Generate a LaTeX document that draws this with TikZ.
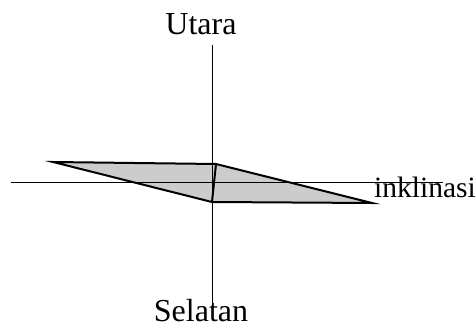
\documentclass[tikz,border=0pt]{standalone}
\usepackage{fontspec}
\setmainfont{Liberation Serif}
\usetikzlibrary{positioning}

\begin{document}
\begin{tikzpicture}[x=1pt, y=-1pt, every node/.style={font=\fontsize{32}{34}\selectfont, inner sep=0pt}]
    \useasboundingbox (0,0) rectangle (475,329);
    % labels
    \node[anchor=base] (utara) at (201,35) {Utara};
    \node[anchor=base] (selatan) at (201,322) {Selatan};
    \node[anchor=base west, font=\fontsize{29.5}{31}\selectfont] (inklinasi) at (374,197) {inklinasi};
    % axes
    \coordinate (n) at (212.5,45);
    \coordinate (s) at (212.5,310);
    \coordinate (w) at (11,183);
    \coordinate (e) at (443,183);
    % plane
    \coordinate (a) at (53,162);
    \coordinate (b) at (216,164);
    \coordinate (c) at (372,203);
    \coordinate (d) at (212,202);
    \fill[gray!40] (a) -- (b) -- (c) -- (d) -- cycle;
    \draw[line width=1pt] (w) -- (e);
    \draw[line width=1pt] (n) -- (s);
    \draw[line width=2pt, line join=miter] (a) -- (b) -- (c) -- (d) -- cycle;
    \draw[line width=2pt] (b) -- (d);
\end{tikzpicture}
\end{document}
